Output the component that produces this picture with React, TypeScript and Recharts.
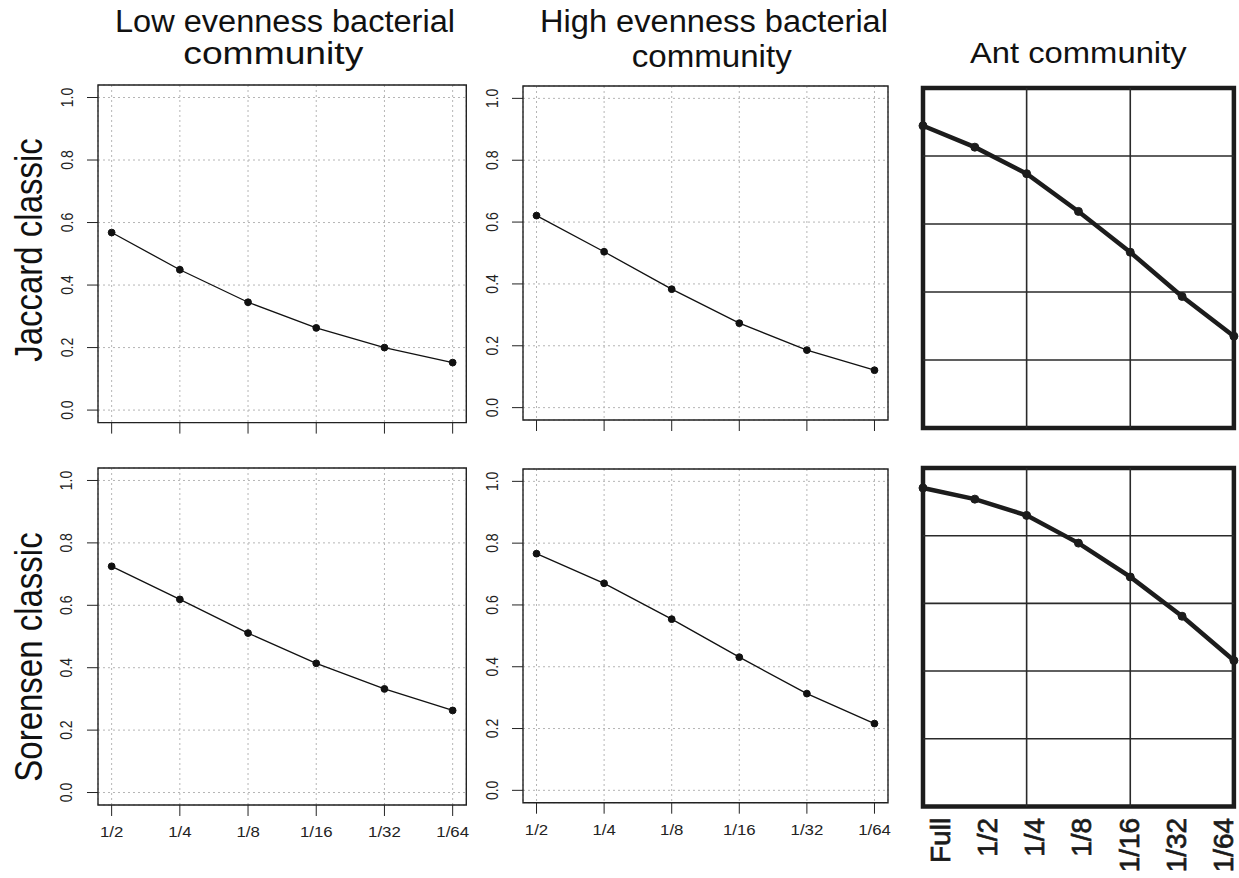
import React from 'react';
import { LineChart, Line, XAxis, YAxis, CartesianGrid, ReferenceArea, ReferenceLine } from 'recharts';

// ---- data ----
const fractions = ['1/2', '1/4', '1/8', '1/16', '1/32', '1/64'];
const antLabels = ['Full', '1/2', '1/4', '1/8', '1/16', '1/32', '1/64'];
const lowJaccard = [0.568, 0.449, 0.345, 0.263, 0.2, 0.152];
const highJaccard = [0.621, 0.504, 0.383, 0.273, 0.186, 0.121];
const lowSorensen = [0.725, 0.619, 0.511, 0.414, 0.332, 0.263];
const highSorensen = [0.766, 0.67, 0.554, 0.431, 0.313, 0.216];
const antJaccard = [0.889, 0.826, 0.748, 0.637, 0.517, 0.387, 0.27];
const antSorensen = [0.941, 0.908, 0.86, 0.778, 0.678, 0.562, 0.431];
const yTicks = [0, 0.2, 0.4, 0.6, 0.8, 1.0];
const bactXTicks = [1, 2, 3, 4, 5, 6];
const antXTicks = [0, 1, 2, 3, 4, 5, 6];
const antGridY = [0.2, 0.4, 0.6, 0.8];
const antGridX = [2, 4];

const FONT = '"Liberation Sans", Arial, Helvetica, sans-serif';

type Box = { x0: number; x1: number; y0: number; y1: number };

const YTick = (props: any) => {
  const { x, y, payload } = props;
  const bx = x - 14.5;
  return (
    <text
      transform={`translate(${bx},${y}) scale(1.2,1) rotate(-90)`}
      textAnchor="middle"
      fontSize={14}
      fontFamily={FONT}
      fill="#222"
    >
      {Number(payload.value).toFixed(1)}
    </text>
  );
};

const makeXTick = (show: boolean) => (props: any) => {
  const { x, y, payload } = props;
  if (!show) return <g />;
  const idx = Number(payload.value) - 1;
  return (
    <text
      transform={`translate(${x},${y + 21.5}) scale(1.2,1)`}
      textAnchor="middle"
      fontSize={14}
      fontFamily={FONT}
      fill="#222"
    >
      {fractions[idx]}
    </text>
  );
};

const AntTick = (props: any) => {
  const { x, y, payload } = props;
  return (
    <text
      transform={`translate(${x},${y + 11.5}) rotate(-90)`}
      textAnchor="end"
      dy="0.36em"
      fontSize={28}
      fontFamily={FONT}
      fill="#1a1a1a"
      stroke="#1a1a1a"
      strokeWidth={0.7}
    >
      {antLabels[Number(payload.value)]}
    </text>
  );
};

function BactPanel({ values, box, showX }: { values: number[]; box: Box; showX: boolean }) {
  const data = values.map((v, i) => ({ x: i + 1, v }));
  const yw = 48;
  const xh = 40;
  const mt = 5;
  const mr = 6;
  const left = box.x0 - yw;
  const top = box.y0 - mt;
  const width = box.x1 - left + mr;
  const height = box.y1 - top + xh;
  return (
    <div style={{ position: 'absolute', left, top }}>
      <LineChart width={width} height={height} data={data} margin={{ top: mt, right: mr, left: 0, bottom: 0 }}>
        <CartesianGrid stroke="#b5b5b5" strokeDasharray="2 3" strokeWidth={1} />
        <XAxis
          dataKey="x"
          type="number"
          domain={[0.8, 6.2]}
          ticks={bactXTicks}
          interval={0}
          axisLine={false}
          tickSize={11}
          tickMargin={0}
          height={xh}
          tickLine={{ stroke: '#222', strokeWidth: 1 }}
          tick={makeXTick(showX)}
        />
        <YAxis
          type="number"
          domain={[-0.04, 1.04]}
          ticks={yTicks}
          interval={0}
          axisLine={false}
          tickSize={11}
          tickMargin={0}
          width={yw}
          tickLine={{ stroke: '#222', strokeWidth: 1 }}
          tick={YTick}
        />
        <ReferenceArea x1={0.8} x2={6.2} y1={-0.04} y2={1.04} fill="none" fillOpacity={0} stroke="#222" strokeWidth={1.4} ifOverflow="visible" />
        <Line
          dataKey="v"
          stroke="#111"
          strokeWidth={1.3}
          dot={{ r: 3.4, fill: '#111', stroke: '#111', strokeWidth: 1 }}
          isAnimationActive={false}
        />
      </LineChart>
    </div>
  );
}

function AntPanel({ values, box, showX }: { values: number[]; box: Box; showX: boolean }) {
  const data = values.map((v, i) => ({ x: i, v }));
  const m = 10;
  const xh = showX ? 72 : 0;
  const left = box.x0 - m;
  const top = box.y0 - m;
  const width = box.x1 - left + m;
  const height = box.y1 - top + (showX ? xh : m);
  return (
    <div style={{ position: 'absolute', left, top }}>
      <LineChart width={width} height={height} data={data} margin={{ top: m, right: m, left: m, bottom: showX ? 0 : m }}>
        <XAxis dataKey="x" type="number" domain={[0, 6]} hide height={0} />
        {showX && (
          <XAxis
            xAxisId="lab"
            type="number"
            domain={[0, 6]}
            ticks={antXTicks}
            interval={0}
            padding={{ left: 16.5, right: 11 }}
            axisLine={false}
            tickLine={false}
            tickSize={0}
            tickMargin={0}
            height={xh}
            tick={AntTick}
          />
        )}
        <YAxis type="number" domain={[0, 1]} hide width={0} />
        {antGridY.map((g) => (
          <ReferenceLine key={'y' + g} y={g} stroke="#2a2a2a" strokeWidth={1.6} />
        ))}
        {antGridX.map((g) => (
          <ReferenceLine key={'x' + g} x={g} stroke="#2a2a2a" strokeWidth={1.6} />
        ))}
        <ReferenceArea x1={0} x2={6} y1={0} y2={1} fill="none" fillOpacity={0} stroke="#1c1c1c" strokeWidth={4.5} ifOverflow="visible" />
        <Line
          dataKey="v"
          stroke="#1c1c1c"
          strokeWidth={4.5}
          dot={{ r: 4, fill: '#1c1c1c', stroke: '#1c1c1c', strokeWidth: 1 }}
          isAnimationActive={false}
        />
      </LineChart>
    </div>
  );
}

export default function App() {
  return (
    <div style={{ position: 'absolute', left: 0, top: 0, width: 1239, height: 878, background: '#fff', overflow: 'hidden' }}>
      <BactPanel values={lowJaccard} box={{ x0: 97.7, x1: 466, y0: 84.7, y1: 422.3 }} showX={false} />
      <BactPanel values={highJaccard} box={{ x0: 523.3, x1: 888.3, y0: 86, y1: 420 }} showX={false} />
      <AntPanel values={antJaccard} box={{ x0: 922.6, x1: 1233.5, y0: 88.3, y1: 428.3 }} showX={false} />
      <BactPanel values={lowSorensen} box={{ x0: 97.7, x1: 466, y0: 468.3, y1: 805.3 }} showX={true} />
      <BactPanel values={highSorensen} box={{ x0: 523.3, x1: 888.3, y0: 469, y1: 802.7 }} showX={true} />
      <AntPanel values={antSorensen} box={{ x0: 922.6, x1: 1233.5, y0: 468.3, y1: 806.7 }} showX={true} />
      <svg width={1239} height={878} style={{ position: 'absolute', left: 0, top: 0, pointerEvents: 'none' }}>
        <g fontFamily={FONT} fill="#111">
          <text x={285} y={32} textAnchor="middle" fontSize={31} textLength={340} lengthAdjust="spacingAndGlyphs">Low evenness bacterial</text>
          <text x={273.3} y={64} textAnchor="middle" fontSize={32} textLength={180} lengthAdjust="spacingAndGlyphs">community</text>
          <text x={714} y={32} textAnchor="middle" fontSize={31} textLength={348} lengthAdjust="spacingAndGlyphs">High evenness bacterial</text>
          <text x={711.7} y={66.5} textAnchor="middle" fontSize={32} textLength={160} lengthAdjust="spacingAndGlyphs">community</text>
          <text x={1078.3} y={63} textAnchor="middle" fontSize={30} textLength={216.7} lengthAdjust="spacingAndGlyphs">Ant community</text>
          <text transform="translate(41.7,250) scale(1.2,1) rotate(-90)" textAnchor="middle" fontSize={33}>Jaccard classic</text>
          <text transform="translate(41.7,657) scale(1.2,1) rotate(-90)" textAnchor="middle" fontSize={33}>Sorensen classic</text>
        </g>
      </svg>
    </div>
  );
}
